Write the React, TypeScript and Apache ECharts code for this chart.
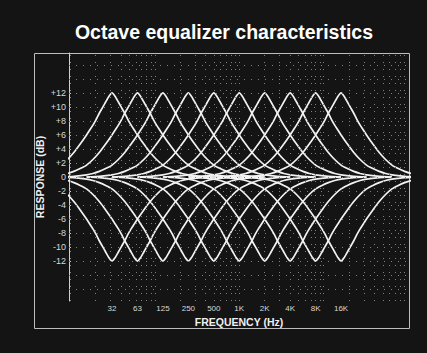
import React, { useEffect, useRef } from "react";
import * as echarts from "echarts";

// Band centres (labels) and their positions in octaves from the 32 Hz band
const BANDS = ["32", "63", "125", "250", "500", "1K", "2K", "4K", "8K", "16K"];
const BAND_OCTAVE = [0, 1, 2, 3, 4, 5, 6, 7, 8, 9];

// One band's boost response: dB at an offset (octaves) from its centre
const PROFILE_OFFSET = [0, 0.125, 0.25, 0.375, 0.5, 0.625, 0.75, 0.875, 1, 1.25, 1.5, 1.75, 2, 2.25, 2.5, 2.75, 3, 3.5, 4];
const PROFILE_DB = [12, 11.5, 10.7, 9.9, 9.1, 8.2, 7.4, 6.7, 6.0, 4.7, 3.5, 2.5, 1.7, 1.2, 0.8, 0.5, 0.3, 0.1, 0];

// Y tick values and their printed labels
const Y_TICKS = [12, 10, 8, 6, 4, 2, 0, -2, -4, -6, -8, -10, -12];
const Y_LABELS = ["+12", "+10", "+8", "+6", "+4", "+2", "0", "-2", "-4", "-6", "-8", "-10", "-12"];

// Graph-paper lines: frequencies (Hz) of the log grid and dB rows
const GRID_FREQ = [
  10, 20, 30, 40, 50, 60, 70, 80, 90, 100, 200, 300, 400, 500, 600, 700, 800, 900, 1000,
  2000, 3000, 4000, 5000, 6000, 7000, 8000, 9000, 10000, 20000, 30000, 40000, 50000, 60000,
  70000, 80000, 90000,
];
const GRID_DB = [16, 14, 12, 10, 8, 6, 4, 2, 0, -2, -4, -6, -8, -10, -12, -14, -16];
const REF_FREQ = 31.25;

const FONT = "Liberation Sans, Arial, sans-serif";

export default function App() {
  const ref = useRef<HTMLDivElement>(null);

  useEffect(() => {
    if (!ref.current) return;
    const chart = echarts.init(ref.current, undefined, { renderer: "svg" });

    const bandCurve = (centre: number, sign: number) => {
      const pts: number[][] = [];
      for (let i = PROFILE_OFFSET.length - 1; i > 0; i--) pts.push([centre - PROFILE_OFFSET[i], sign * PROFILE_DB[i]]);
      for (let i = 0; i < PROFILE_OFFSET.length; i++) pts.push([centre + PROFILE_OFFSET[i], sign * PROFILE_DB[i]]);
      return pts;
    };

    const curveSeries: any[] = [];
    BAND_OCTAVE.forEach((c) => {
      [1, -1].forEach((s) => {
        curveSeries.push({
          type: "line",
          data: bandCurve(c, s),
          smooth: 0.15,
          symbol: "none",
          silent: true,
          lineStyle: { color: "#f2f2f2", width: 1.7 },
          z: 3,
        });
      });
    });

    const gridLine = { color: "#808080", width: 1, type: [1, 6] as any };

    const option: any = {
      animation: false,
      backgroundColor: "#141414",
      title: {
        text: "Octave equalizer characteristics",
        left: 219,
        textAlign: "center",
        top: 17,
        textStyle: { color: "#ffffff", fontSize: 19.5, fontWeight: "bold", fontFamily: FONT },
      },
      grid: { left: 69, right: 18, top: 53, height: 248 },
      xAxis: {
        type: "value",
        min: -1.69,
        max: 11.67,
        name: "FREQUENCY (Hz)",
        nameLocation: "middle",
        nameGap: 14,
        nameTextStyle: { color: "#f0f0f0", fontSize: 10.5, fontWeight: "bold", fontFamily: FONT },
        axisLine: { show: false },
        axisTick: { show: false },
        splitLine: { show: false },
        axisLabel: {
          customValues: BAND_OCTAVE,
          formatter: (v: number) => BANDS[Math.round(v)] ?? "",
          color: "#d8d8d8",
          fontSize: 8,
          margin: 3,
          fontFamily: FONT,
        },
      },
      yAxis: {
        type: "value",
        min: -17.7,
        max: 17.7,
        name: "RESPONSE (dB)",
        nameLocation: "middle",
        nameGap: 24,
        nameMoveOverlap: false,
        nameTextStyle: { color: "#f0f0f0", fontSize: 10.5, fontWeight: "bold", fontFamily: FONT },
        axisLine: { show: true, onZero: false, lineStyle: { color: "#cfcfcf", width: 1 } },
        axisTick: { show: true, customValues: Y_TICKS, length: 2, inside: true, lineStyle: { color: "#cfcfcf" } },
        splitLine: { show: false },
        axisLabel: {
          customValues: Y_TICKS,
          formatter: (v: number) => Y_LABELS[Y_TICKS.indexOf(Math.round(v))] ?? "",
          color: "#d8d8d8",
          fontSize: 9,
          margin: 3,
          fontFamily: FONT,
        },
      },
      series: [
        {
          type: "line",
          data: [],
          silent: true,
          z: 1,
          markLine: {
            silent: true,
            symbol: ["none", "none"],
            label: { show: false },
            lineStyle: gridLine,
            data: [
              ...GRID_FREQ.map((f) => ({ xAxis: Math.log2(f / REF_FREQ) })),
              ...GRID_DB.map((d) => ({ yAxis: d })),
            ],
          },
        },
        ...curveSeries,
      ],
      graphic: [
        {
          type: "rect",
          shape: { x: 34.5, y: 53.5, width: 375, height: 275 },
          style: { fill: "none", stroke: "#bdbdbd", lineWidth: 1 },
          silent: true,
        },
      ],
    };

    chart.setOption(option);
    return () => chart.dispose();
  }, []);

  return (
    <div
      ref={ref}
      style={{ position: "fixed", left: 0, top: 0, width: 427, height: 353, background: "#141414" }}
    />
  );
}
